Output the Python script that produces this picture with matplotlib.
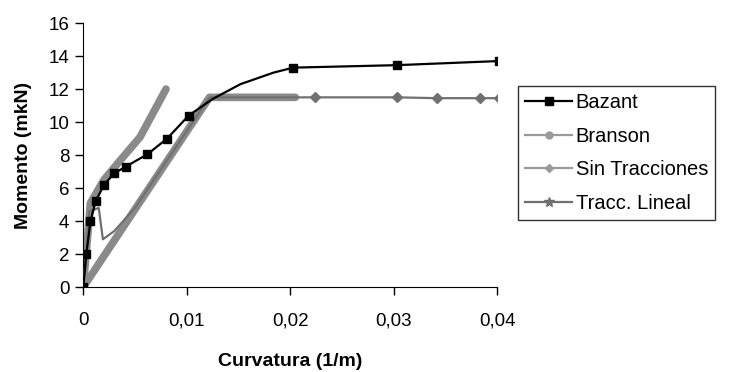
import matplotlib
matplotlib.use("Agg")
import matplotlib.pyplot as plt
from matplotlib.lines import Line2D
from matplotlib.ticker import FuncFormatter

plt.rcParams['font.family'] = ['Liberation Sans', 'DejaVu Sans']

# curves (curvature 1/m, moment mkN)
bazant_x = [0, 0.0003, 0.0007, 0.0012, 0.002, 0.003, 0.0041, 0.0062, 0.0081, 0.0102,
            0.0125, 0.0152, 0.0184, 0.0203, 0.0303, 0.0402]
bazant_y = [0, 2.0, 4.0, 5.2, 6.2, 6.9, 7.3, 8.05, 9.0, 10.4,
            11.4, 12.3, 13.0, 13.3, 13.45, 13.7]
bazant_marks = [0, 1, 2, 3, 4, 5, 6, 7, 8, 9, 13, 14, 15]

branson_x = [0, 0.0007, 0.002, 0.0036, 0.0055, 0.008]
branson_y = [0, 5.1, 6.5, 7.7, 9.1, 12.0]

sin_tracc_x = [0, 0.0122, 0.0205]
sin_tracc_y = [0, 11.5, 11.5]

tracc_lineal_x = [0, 0.0006, 0.0015, 0.0019, 0.003, 0.005, 0.0122, 0.0224, 0.0303, 0.0342, 0.0383, 0.0402]
tracc_lineal_y = [0, 4.6, 4.8, 2.9, 3.4, 4.8, 11.5, 11.5, 11.5, 11.45, 11.45, 11.45]
tracc_marks = [7, 8, 9, 10, 11]

labels = ['Bazant', 'Branson', 'Sin Tracciones', 'Tracc. Lineal']

fig = plt.figure(figsize=(7.3, 3.72), dpi=100)
ax = fig.add_axes([0.114, 0.228, 0.567, 0.71])

band = '#8a8a8a'
# dense Excel markers show up as thick grey bands
ax.plot(branson_x, branson_y, color=band, lw=5.5, solid_capstyle='round', zorder=2)
ax.plot(sin_tracc_x, sin_tracc_y, color=band, lw=5.5, solid_capstyle='round', zorder=2)
ax.plot(tracc_lineal_x, tracc_lineal_y, color='#707070', lw=1.6, marker='D', ms=5,
        markevery=tracc_marks, zorder=3)
ax.plot(bazant_x, bazant_y, color='black', lw=1.6, marker='s', ms=5.5,
        markevery=bazant_marks, zorder=4)

ax.set_xlim(0, 0.04)
ax.set_ylim(0, 16)
ax.set_xticks([0, 0.01, 0.02, 0.03, 0.04])
ax.set_yticks(range(0, 17, 2))
ax.xaxis.set_major_formatter(FuncFormatter(lambda v, p: '0' if v == 0 else f'{v:.2f}'.replace('.', ',')))
ax.spines['top'].set_visible(False)
ax.spines['right'].set_visible(False)
ax.tick_params(direction='out', length=6, width=1, labelsize=13.5, color='black')
ax.tick_params(axis='x', pad=12)
ax.tick_params(axis='y', pad=4)
ax.set_xlabel('Curvatura (1/m)', fontsize=14, fontweight='bold', labelpad=17)
ax.set_ylabel('Momento (mkN)', fontsize=14, fontweight='bold', labelpad=12)

handles = [
    Line2D([], [], color='black', lw=1.6, marker='s', ms=5.5),
    Line2D([], [], color='#9a9a9a', lw=1.6, marker='o', ms=5),
    Line2D([], [], color='#9a9a9a', lw=1.6, marker='D', ms=4.5),
    Line2D([], [], color='#707070', lw=1.6, marker='*', ms=7),
]
leg = fig.legend(handles, labels, loc='upper left', bbox_to_anchor=(0.71, 0.768),
                 fontsize=14.5, frameon=True, fancybox=False, edgecolor='black',
                 labelspacing=0.72, handlelength=2.3, handletextpad=0.2, borderpad=0.35,
                 borderaxespad=0)
leg.get_frame().set_linewidth(1)

fig.savefig('out.png', dpi=100)
